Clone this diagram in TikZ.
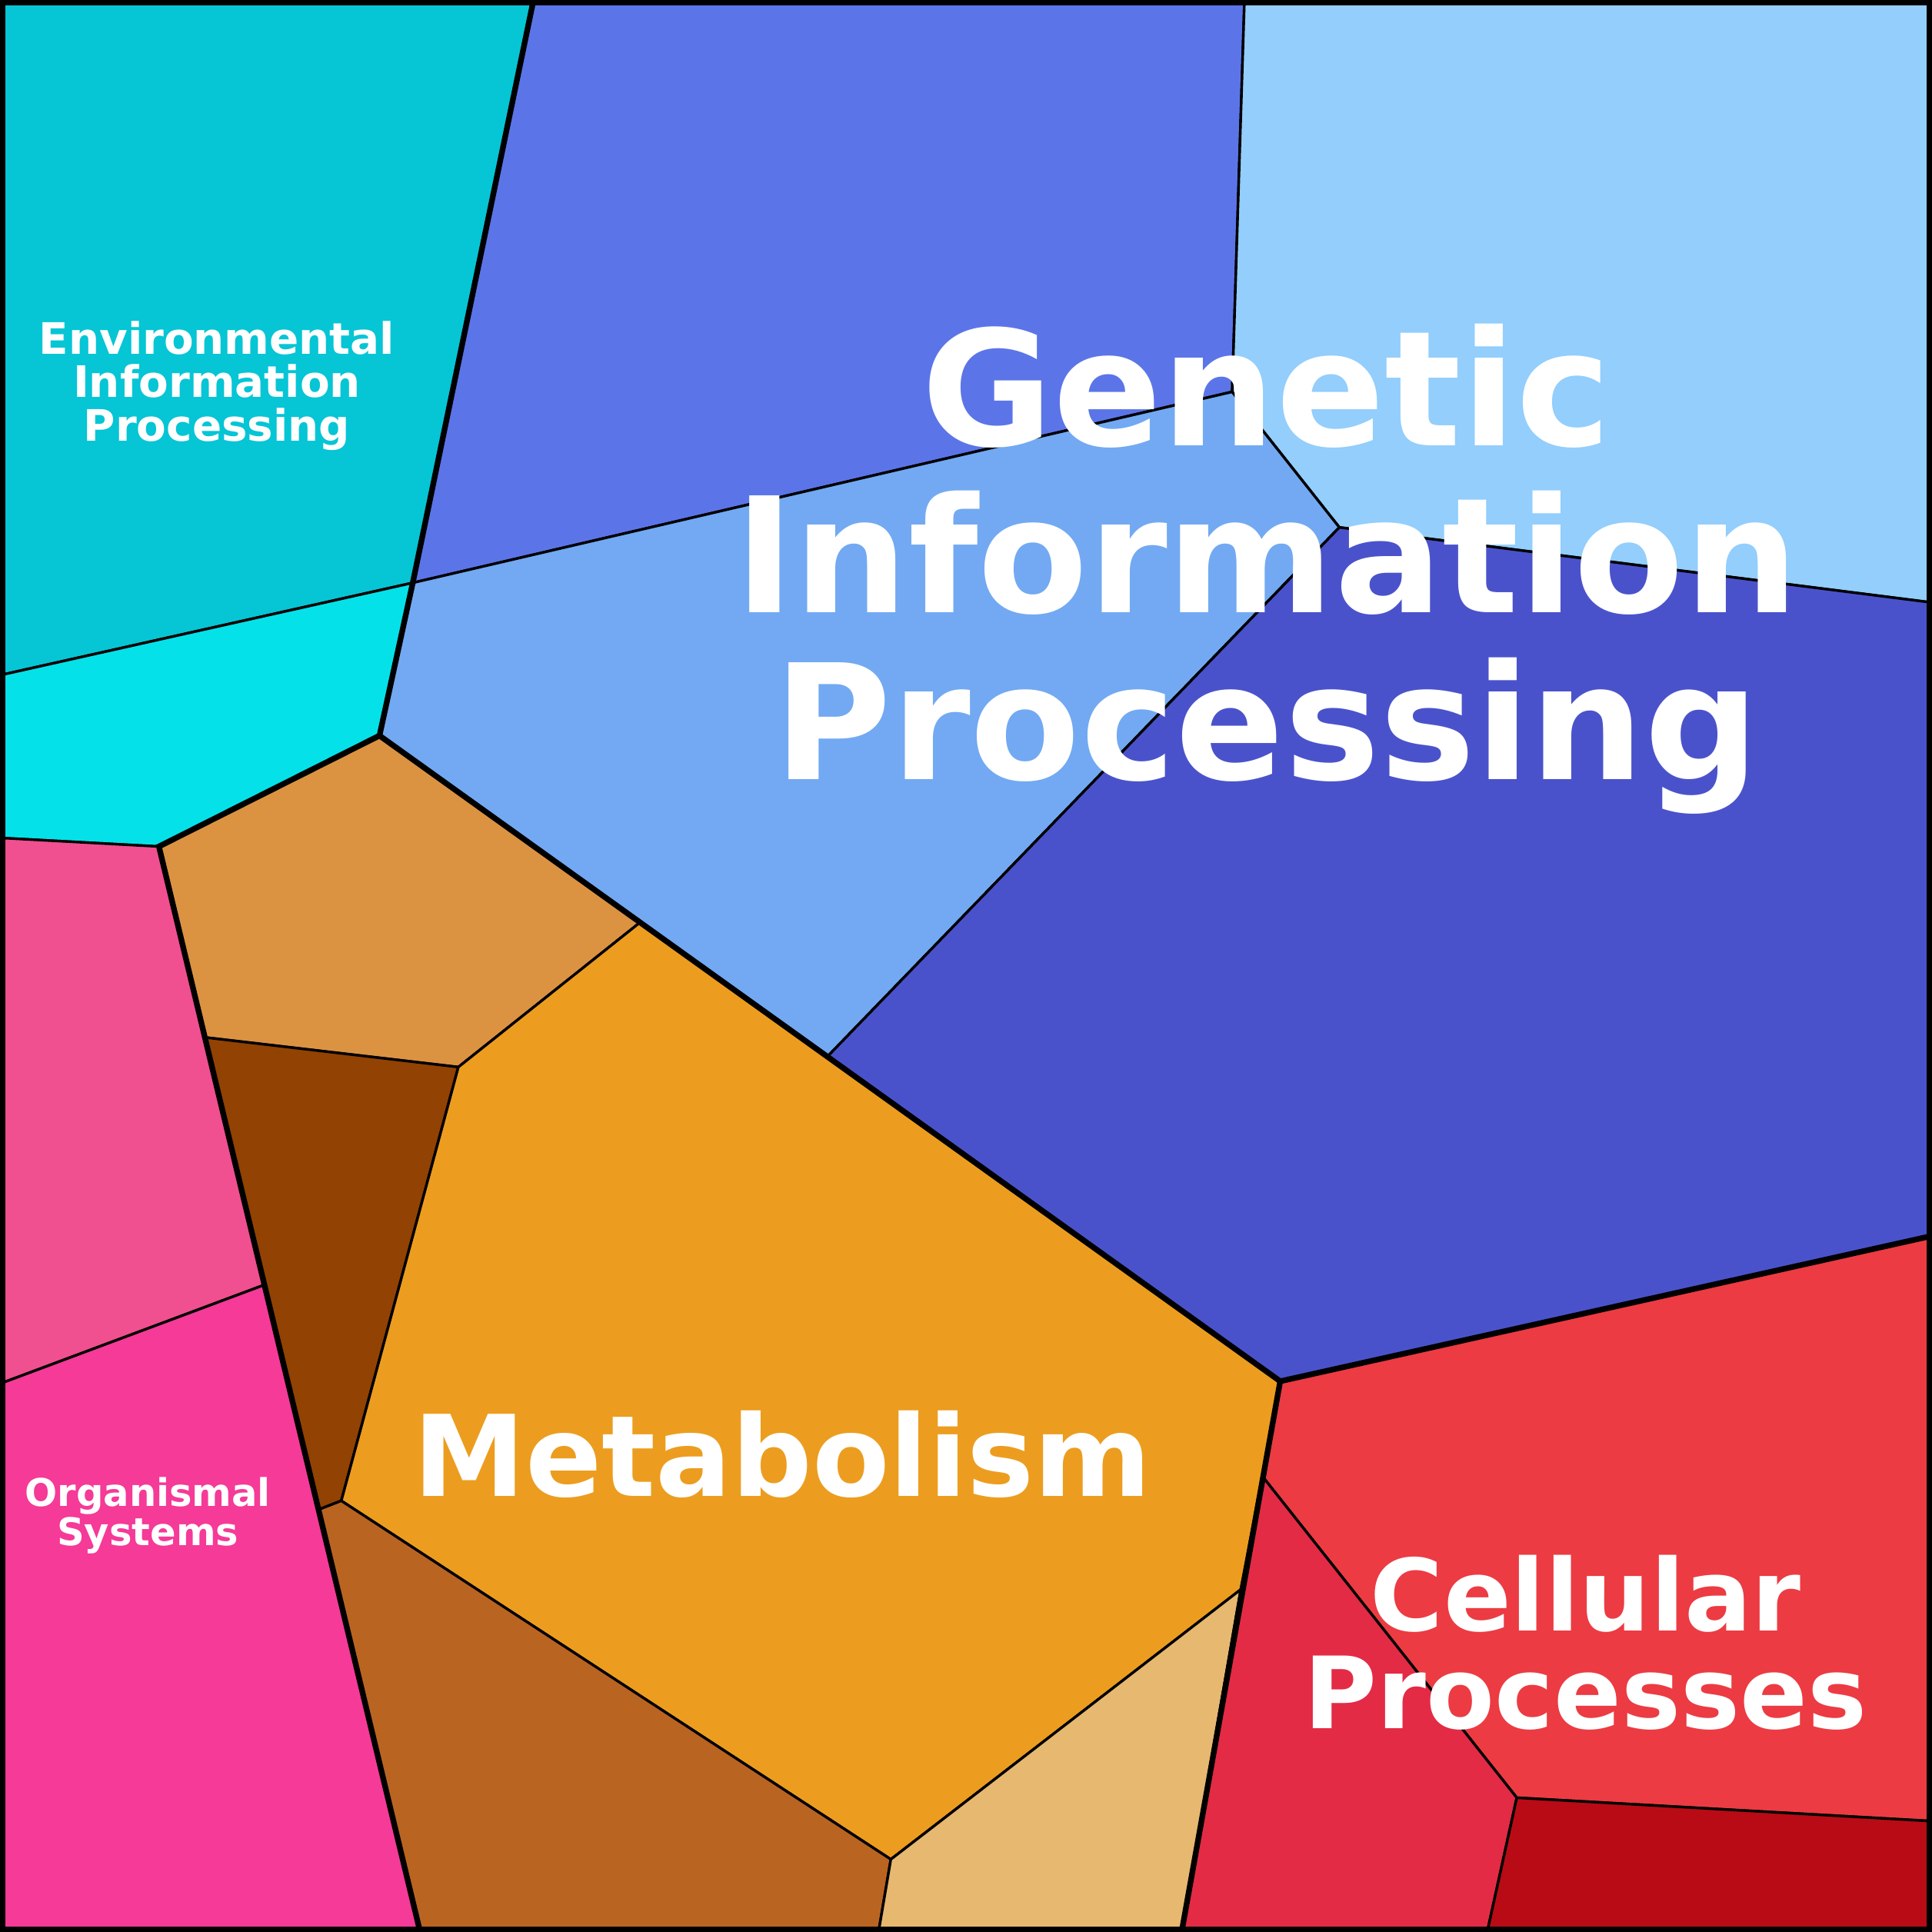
\documentclass[tikz,border=0pt]{standalone}
\usepackage{fontspec}
\setmainfont{DejaVu Sans}
\begin{document}
\begin{tikzpicture}[x=0.01cm,y=-0.01cm,
 thin line/.style={line width=0.6pt,draw=black},
 thick line/.style={line width=1.3pt,draw=black},
 lbl/.style={text=white,align=center}]
\useasboundingbox (0,0) rectangle (1568,1568);
\definecolor{c1}{HTML}{06C5D5}\definecolor{c2}{HTML}{05E1E9}
\definecolor{g1}{HTML}{5B75E8}\definecolor{g2}{HTML}{93CEFC}\definecolor{g3}{HTML}{72A9F2}\definecolor{g4}{HTML}{4A52CB}
\definecolor{m1}{HTML}{DB9342}\definecolor{m2}{HTML}{924202}\definecolor{m3}{HTML}{EC9D1F}\definecolor{m4}{HTML}{BA6422}\definecolor{m5}{HTML}{E6B870}
\definecolor{o1}{HTML}{F04F90}\definecolor{o2}{HTML}{F53A98}
\definecolor{r1}{HTML}{EC3B42}\definecolor{r2}{HTML}{E32B45}\definecolor{r3}{HTML}{B80B15}
\filldraw[fill=c1,thin line] (0,0)--(433,0)--(335,473)--(0,548)--cycle;
\filldraw[fill=c2,thin line] (0,548)--(335,473)--(308,597)--(129,687)--(0,680)--cycle;
\filldraw[fill=g1,thin line] (433,0)--(1010,0)--(1000,318)--(335,473)--cycle;
\filldraw[fill=g2,thin line] (1010,0)--(1568,0)--(1568,489)--(1087,428)--(1000,318)--cycle;
\filldraw[fill=g3,thin line] (335,473)--(1000,318)--(1087,428)--(672,857)--(308,597)--cycle;
\filldraw[fill=g4,thin line] (1087,428)--(1568,489)--(1568,1003)--(1039,1121)--(672,857)--cycle;
\filldraw[fill=m1,thin line] (308,597)--(519,749)--(372,866)--(167,842)--(129,687)--cycle;
\filldraw[fill=m2,thin line] (167,842)--(372,866)--(277,1218)--(259,1225)--cycle;
\filldraw[fill=m3,thin line] (519,749)--(1039,1121)--(1007,1290)--(723,1509)--(277,1218)--(372,866)--cycle;
\filldraw[fill=m4,thin line] (259,1225)--(277,1218)--(723,1509)--(713,1568)--(341,1568)--cycle;
\filldraw[fill=m5,thin line] (723,1509)--(1007,1290)--(959,1568)--(713,1568)--cycle;
\filldraw[fill=o1,thin line] (0,680)--(129,687)--(214,1043)--(0,1123)--cycle;
\filldraw[fill=o2,thin line] (0,1123)--(214,1043)--(341,1568)--(0,1568)--cycle;
\filldraw[fill=r1,thin line] (1039,1121)--(1568,1003)--(1568,1478)--(1231,1459)--(1026,1200)--cycle;
\filldraw[fill=r2,thin line] (1026,1200)--(1231,1459)--(1207,1568)--(959,1568)--(1007,1290)--cycle;
\filldraw[fill=r3,thin line] (1231,1459)--(1568,1478)--(1568,1568)--(1207,1568)--cycle;
\draw[thick line] (433,0)--(335,473)--(308,597)--(129,687)--(341,1568);
\draw[thick line] (308,597)--(1039,1121)--(1568,1003);
\draw[thick line] (1039,1121)--(959,1568);
\draw[line width=2.4pt] (0,0) rectangle (1568,1568);
\node[lbl,font=\bfseries\fontsize{37}{38.5}\selectfont] (gip) at (1028,462) {Genetic\\Information\\Processing};
\node[lbl,font=\bfseries\fontsize{26}{26}\selectfont] (met) at (635,1180) {Metabolism};
\node[lbl,font=\bfseries\fontsize{23}{22.5}\selectfont] (cel) at (1287,1333) {Cellular\\Processes};
\node[lbl,font=\bfseries\fontsize{10}{10}\selectfont] (env) at (176,313) {Environmental\\Information\\Processing};
\node[lbl,font=\bfseries\fontsize{8.8}{9}\selectfont] (org) at (120,1230) {Organismal\\Systems};
\end{tikzpicture}
\end{document}
